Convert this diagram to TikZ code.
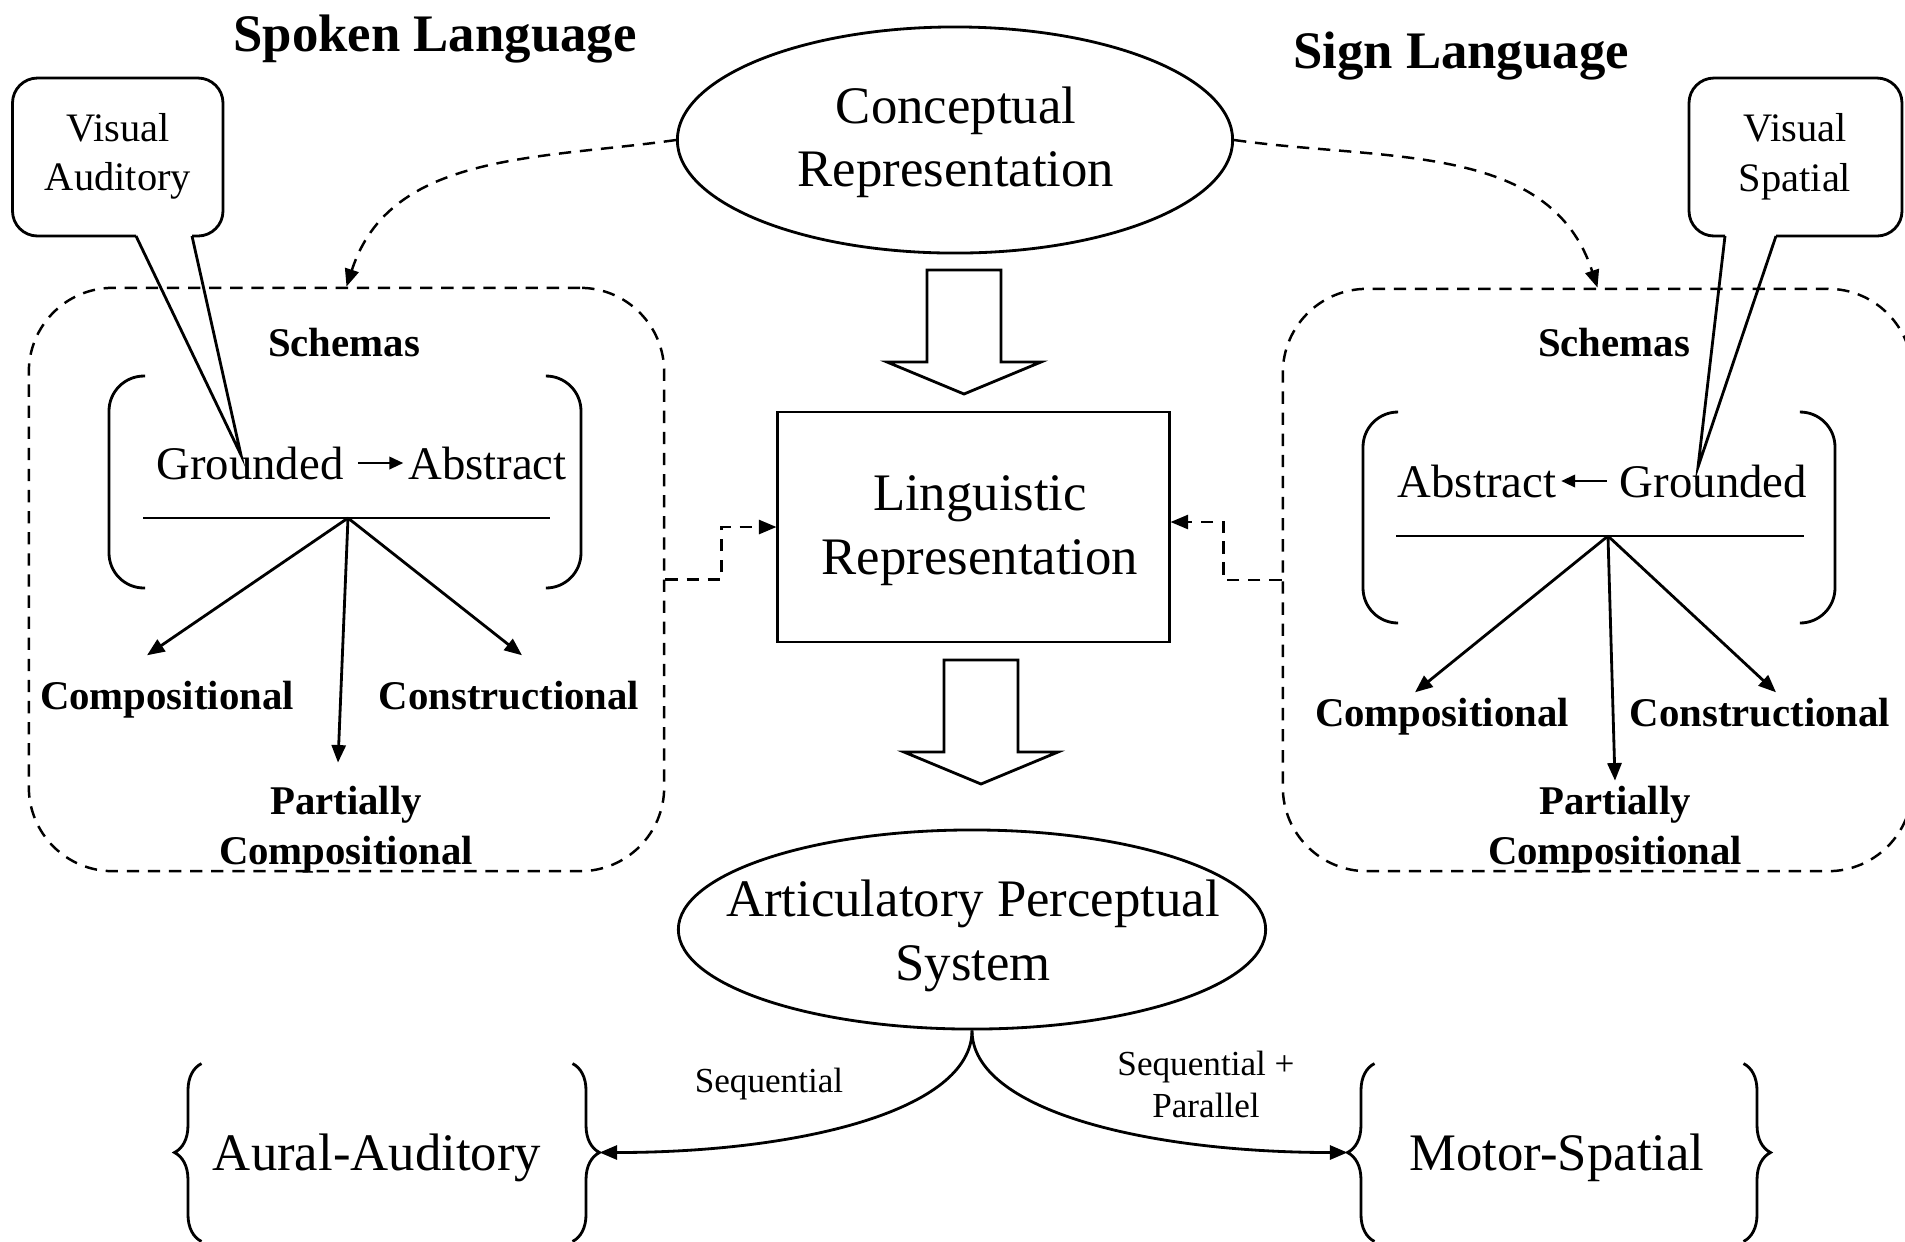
\documentclass[tikz,border=0pt]{standalone}
\usepackage{fontspec}
\setmainfont{Liberation Serif}
\usetikzlibrary{arrows.meta, positioning, shapes.geometric, calc, decorations.pathreplacing}

\tikzset{
  oval/.style={ellipse, draw, inner sep=0pt},
  plainbox/.style={rectangle, draw},
  title/.style={font=\fontsize{15}{18}\selectfont\bfseries, inner sep=0pt},
  bigtext/.style={font=\fontsize{15}{18}\selectfont, align=center, inner sep=0pt},
  midtext/.style={font=\fontsize{13.3}{16}\selectfont, inner sep=0pt},
  smalltext/.style={font=\fontsize{11.5}{14.1}\selectfont, align=center, inner sep=0pt},
  boldlabel/.style={font=\fontsize{11.6}{14.2}\selectfont\bfseries, align=center, inner sep=0pt},
  tinytext/.style={font=\fontsize{10}{11.7}\selectfont, align=center, inner sep=0pt},
  schemabox/.style={rectangle, rounded corners=0.84cm, draw, line width=0.7pt,
                    dash pattern=on 3.5pt off 2.5pt},
  bracket/.style={rounded corners=0.35cm},
  callout/.style={rounded corners=0.25cm},
  curly/.style={decorate, decoration={brace, amplitude=0.27cm}},
  arr/.style={-{Triangle[length=5pt, width=4pt]}},
  smallarr/.style={-{Triangle[length=4pt, width=3.5pt]}},
  dasharr/.style={arr, line width=0.7pt, dash pattern=on 3.5pt off 2.5pt},
}

% hollow block arrow pointing down, #1 = top centre of the shaft
\newcommand{\fatarrow}[1]{%
  \draw #1 ++(-37,0) -- ++(74,0) -- ++(0,-92) -- ++(40,0) -- ++(-77,-32)
        -- ++(-77,32) -- ++(40,0) -- cycle;}

\begin{document}
\begin{tikzpicture}[x=0.01cm, y=0.01cm, line width=0.8pt]
  \useasboundingbox (0,0) rectangle (1905,-1241);

  % titles
  \node[title] (spoken) at (435,-39) {Spoken Language};
  \node[title] (sign)   at (1461,-56) {Sign Language};

  % centre column
  \node[oval, minimum width=5.55cm, minimum height=2.26cm] (concept) at (955,-140) {};
  \node[bigtext] (concepttxt) at (956,-142.5) {Conceptual\\Representation};
  \node[plainbox, minimum width=3.91cm, minimum height=2.30cm] (ling) at (973.5,-527) {};
  \node[bigtext] (lingtxt) at (980,-530.5) {Linguistic\\Representation};
  \node[oval, minimum width=5.87cm, minimum height=1.99cm] (artic) at (972,-929.5) {};
  \node[bigtext] (artictxt) at (973,-936) {Articulatory Perceptual\\System};

  \fatarrow{(964,-270)}
  \fatarrow{(981,-660)}

  % spoken language schemas
  \node[schemabox, minimum width=6.35cm, minimum height=5.83cm] (lschema) at (346.5,-579.5) {};
  \node[boldlabel, anchor=base] (lschemas) at (344,-356.6) {Schemas};
  \node[midtext, anchor=base] (lgr) at (250,-479) {Grounded};
  \node[midtext, anchor=base] (lab) at (487.5,-479) {Abstract};
  \draw[smallarr, shorten <=3.7pt, shorten >=1pt] (lgr) -- (lab);
  \draw[bracket] (145,-376) -| (109,-588) -- (145,-588);
  \draw[bracket] (547,-376) -| (581,-588) -- (547,-588);
  \draw (143,-518) -- (550,-518);
  \coordinate (lbr) at (348,-518);

  \node[boldlabel, anchor=base] (lcomp) at (167,-709) {Compositional};
  \node[boldlabel, anchor=base] (lcons) at (509,-709) {Constructional};
  \node[boldlabel] (lpart) at (346,-829.5) {Partially\\Compositional};
  \draw[arr] (lbr) -- ([xshift=-0.2cm, yshift=0.24cm]lcomp.north);
  \draw[arr] (lbr) -- ([xshift=0.13cm, yshift=0.24cm]lcons.north);
  \draw[arr] (lbr) -- ([xshift=-0.08cm, yshift=0.22cm]lpart.north);

  % sign language schemas
  \node[schemabox, minimum width=6.29cm, minimum height=5.82cm] (rschema) at (1597.5,-580) {};
  \node[boldlabel, anchor=base] (rschemas) at (1614,-356.6) {Schemas};
  \node[midtext, anchor=base] (rab) at (1477,-497) {Abstract};
  \node[midtext, anchor=base] (rgr) at (1713.5,-497) {Grounded};
  \draw[smallarr, shorten <=3.4pt, shorten >=1pt] (rgr) -- (rab);
  \draw[bracket] (1398,-412) -| (1363,-623) -- (1398,-623);
  \draw[bracket] (1801,-412) -| (1835,-623) -- (1801,-623);
  \draw (1396,-536) -- (1804,-536);
  \coordinate (rbr) at (1608,-536);

  \node[boldlabel, anchor=base] (rcomp) at (1442,-726.5) {Compositional};
  \node[boldlabel, anchor=base] (rcons) at (1760,-726.5) {Constructional};
  \node[boldlabel] (rpart) at (1615,-829.5) {Partially\\Compositional};
  \draw[arr] (rbr) -- ([xshift=-0.27cm, yshift=0.045cm]rcomp.north);
  \draw[arr] (rbr) -- ([xshift=0.16cm, yshift=0.045cm]rcons.north);
  \draw[arr] (rbr) -- ([yshift=0.04cm]rpart.north);

  % callouts
  \node[smalltext] (vaud) at (118,-156.5) {Visual\\Auditory};
  \coordinate (ltip) at (241,-455);
  \draw[callout] (136,-236) -| (12.5,-78) -| (223,-236) -- (192,-236);
  \draw (136,-236) -- (ltip) -- (192,-236);

  \node[smalltext] (vspa) at (1795,-156.5) {Visual\\Spatial};
  \coordinate (rtip) at (1698,-467);
  \draw[callout] (1725,-236) -| (1689,-78) -| (1902,-236) -- (1776,-236);
  \draw (1725,-236) -- (rtip) -- (1776,-236);

  % dashed links
  \draw[dasharr] (concept.west) to[out=188, in=72] (lschema.north);
  \draw[dasharr] (concept.east) to[out=-8, in=108] (rschema.north);
  \draw[dasharr] (lschema.east) -- ++(56,0) |- (ling.west);
  \draw[dasharr] (rschema.west) -- ++(-58,0) |- ([yshift=0.05cm]ling.east);

  % modalities
  \node[minimum width=3.68cm, minimum height=1.75cm] (auralbr) at (387,-1152.5) {};
  \node[bigtext] (aural) at (377,-1157.5) {Aural-Auditory};
  \draw[curly] (auralbr.south west) -- (auralbr.north west);
  \draw[curly] (auralbr.north east) -- (auralbr.south east);
  \node[minimum width=3.66cm, minimum height=1.75cm] (motorbr) at (1559,-1152.5) {};
  \node[bigtext] (motor) at (1557,-1157.5) {Motor-Spatial};
  \draw[curly] (motorbr.south west) -- (motorbr.north west);
  \draw[curly] (motorbr.north east) -- (motorbr.south east);

  \draw[arr] (artic.south) .. controls +(0,-80) and +(200,0) .. ([xshift=0.27cm]auralbr.east);
  \draw[arr] (artic.south) .. controls +(0,-80) and +(-200,0) .. ([xshift=-0.27cm]motorbr.west);
  \node[tinytext] (seq) at (769,-1084) {Sequential};
  \node[tinytext] (seqpar) at (1206,-1084.5) {Sequential +\\Parallel};
\end{tikzpicture}
\end{document}
